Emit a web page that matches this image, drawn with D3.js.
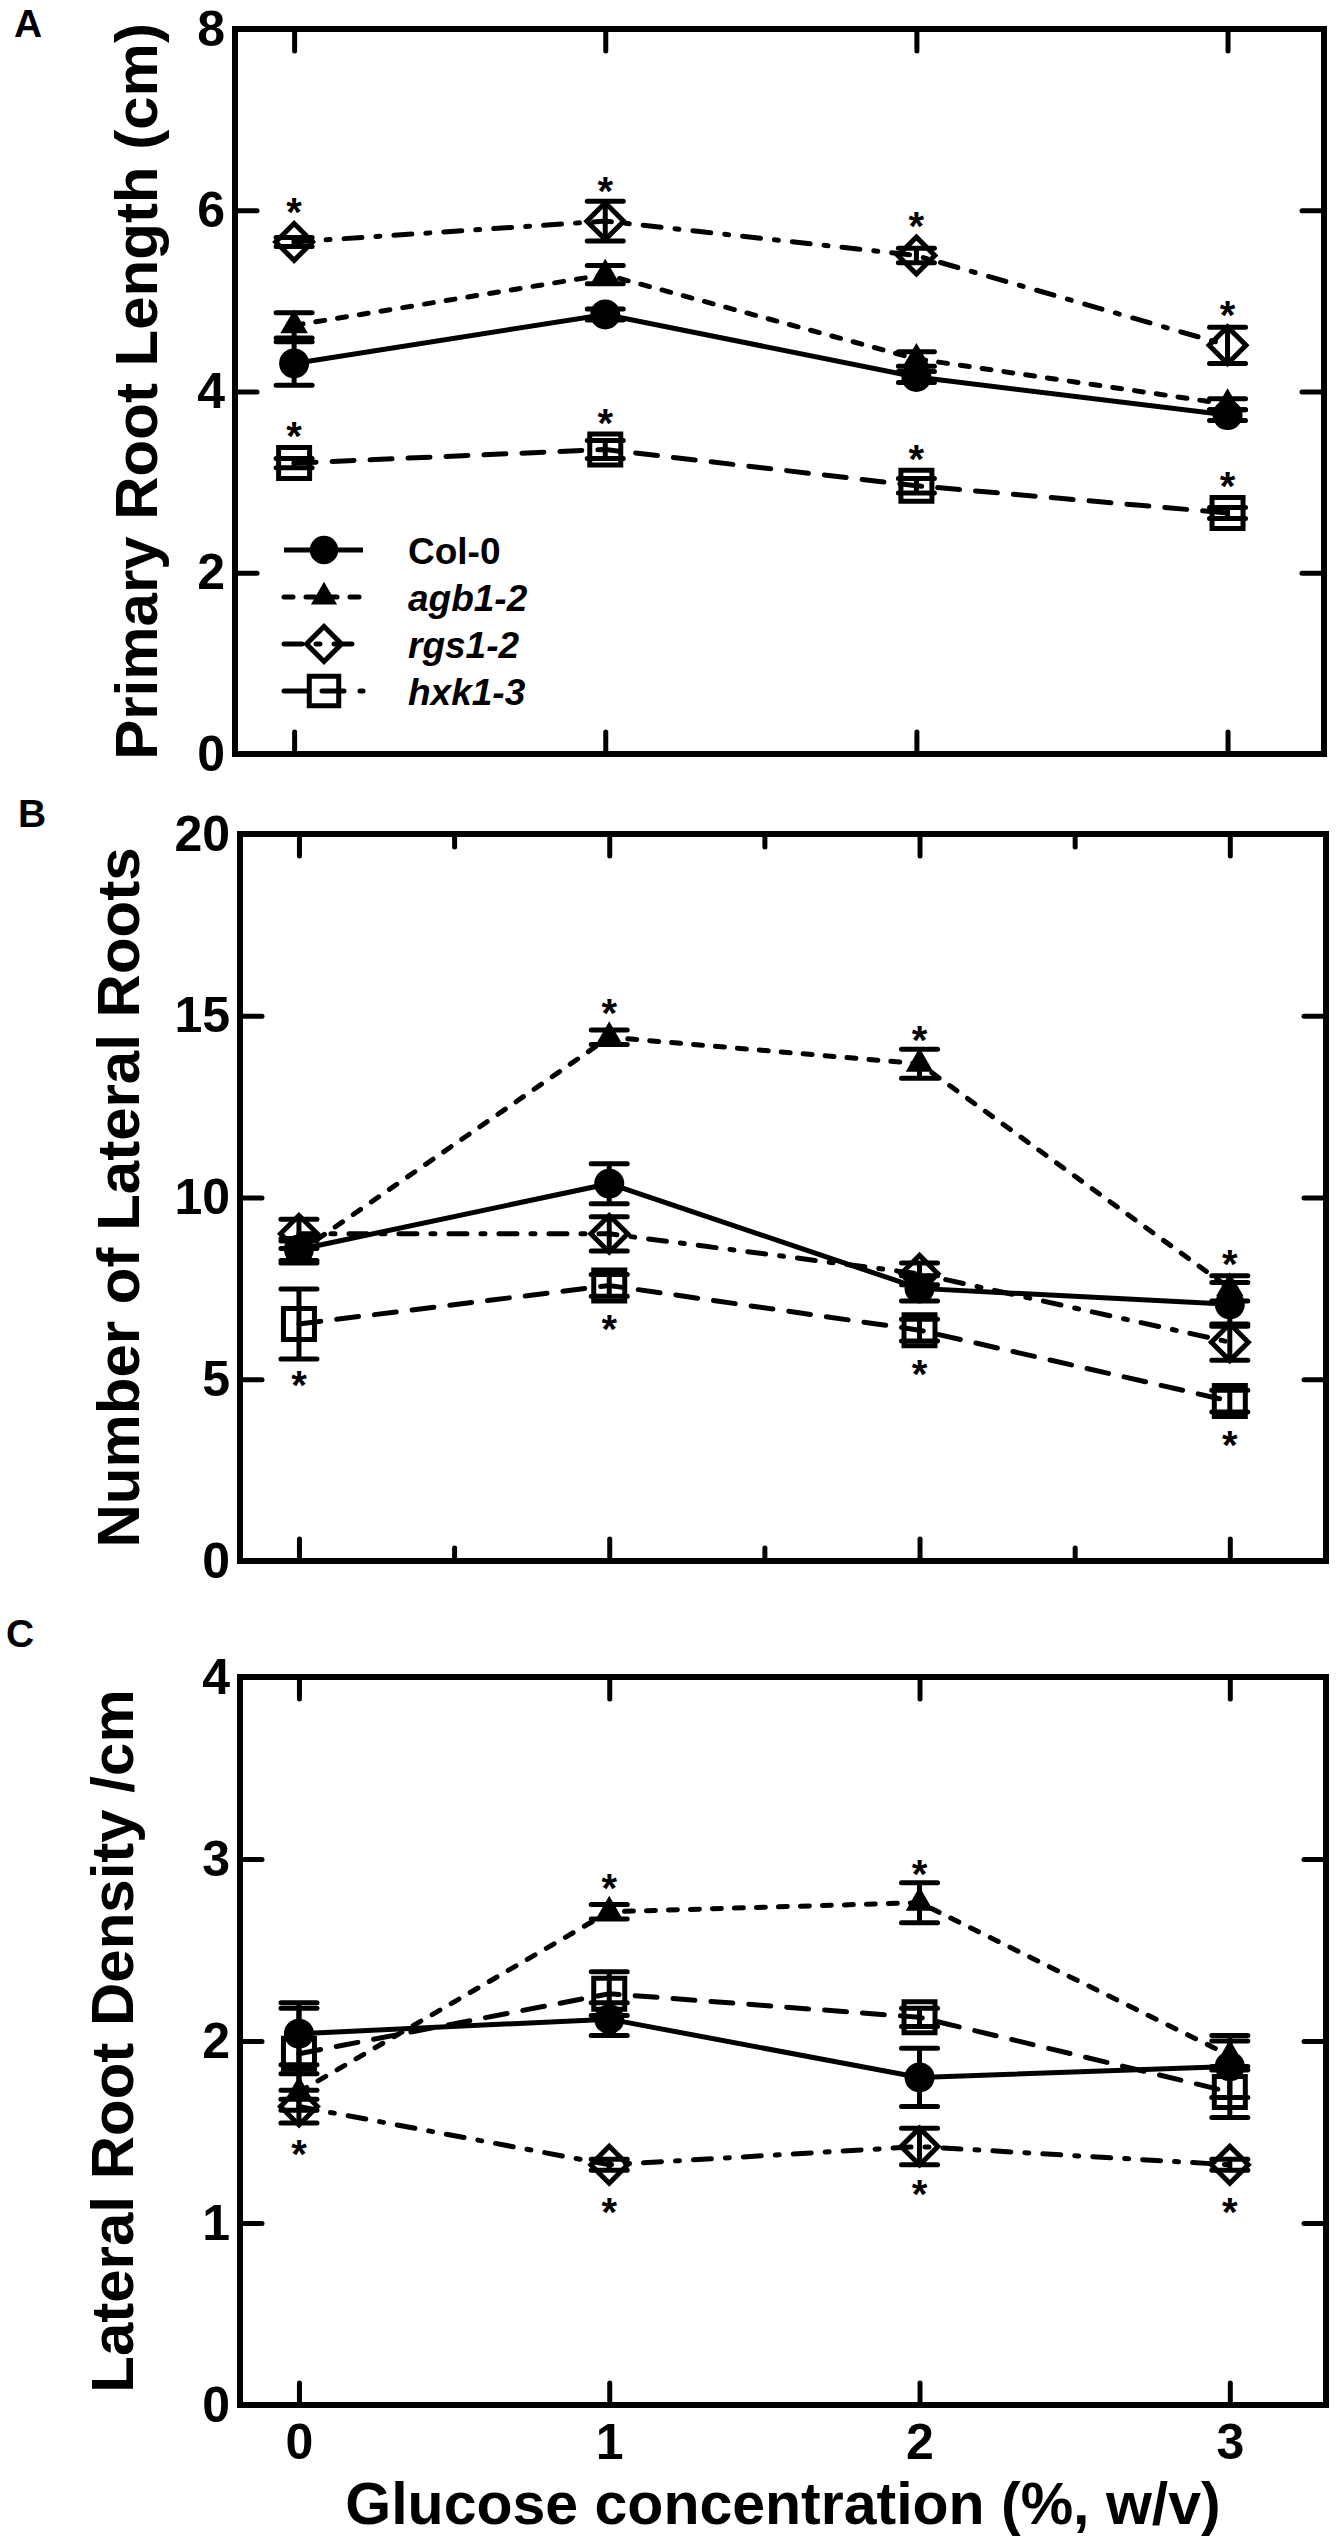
<!DOCTYPE html>
<html>
<head>
<meta charset="utf-8">
<script src="https://cdnjs.cloudflare.com/ajax/libs/d3/7.8.5/d3.min.js"></script>
<style>
  body { margin: 0; background: #fff; }
  text { font-family: "Liberation Sans", Arial, sans-serif; }
</style>
</head>
<body>
<script>
// glucose concentration (%, w/v)
var xVals = [0, 1, 2, 3];
var series = ["Col-0", "agb1-2", "rgs1-2", "hxk1-3"];

// A: primary root length (cm), rows follow series
var primaryMean = [[4.31, 4.85, 4.16, 3.74], [4.73, 5.29, 4.36, 3.86], [5.65, 5.88, 5.50, 4.51], [3.21, 3.36, 2.96, 2.66]];
var primaryErr = [[0.24, 0.06, 0.06, 0.06], [0.14, 0.10, 0.08, 0.06], [0.05, 0.22, 0.08, 0.20], [0.05, 0.10, 0.08, 0.06]];
var primaryStars = [[2, 0, "up"], [2, 1, "up"], [2, 2, "up"], [2, 3, "up"], [3, 0, "up"], [3, 1, "up"], [3, 2, "up"], [3, 3, "up"]];

// B: number of lateral roots
var lateralMean = [[8.57, 10.38, 7.50, 7.06], [8.50, 14.41, 13.68, 7.50], [9.00, 9.00, 7.90, 6.02], [6.52, 7.58, 6.35, 4.40]];
var lateralErr = [[0.30, 0.55, 0.35, 0.60], [0.30, 0.20, 0.40, 0.35], [0.40, 0.47, 0.30, 0.50], [0.96, 0.30, 0.30, 0.30]];
var lateralStars = [[1, 1, "up"], [1, 2, "up"], [1, 3, "up"], [3, 0, "down"], [3, 1, "down"], [3, 2, "down"], [3, 3, "down"]];

// C: lateral root density /cm
var densityMean = [[2.04, 2.12, 1.80, 1.86], [1.72, 2.71, 2.76, 1.92], [1.64, 1.32, 1.42, 1.32], [1.93, 2.26, 2.13, 1.72]];
var densityErr = [[0.17, 0.09, 0.16, 0.17], [0.10, 0.04, 0.11, 0.08], [0.09, 0.03, 0.10, 0.03], [0.25, 0.12, 0.05, 0.14]];
var densityStars = [[1, 1, "up"], [1, 2, "up"], [2, 0, "down"], [2, 1, "down"], [2, 2, "down"], [2, 3, "down"]];

var yTicksA = [0, 2, 4, 6, 8];
var yTicksB = [0, 5, 10, 15, 20];
var yTicksC = [0, 1, 2, 3, 4];
var minorX = [0.5, 1.5, 2.5];

var screen = {width: 1340, height: 2545};

var panels = [
  {letter: "A", top: 29, bottom: 754, left: 235, right: 1324, yMax: 8, ticks: yTicksA, title: "Primary Root Length (cm)", titleX: 157,
   letterX: 14, letterY: 37, mean: primaryMean, err: primaryErr, stars: primaryStars, minor: false, legend: true, xLabels: false},
  {letter: "B", top: 834, bottom: 1561, left: 240, right: 1326, yMax: 20, ticks: yTicksB, title: "Number of Lateral Roots", titleX: 139,
   letterX: 18, letterY: 827, mean: lateralMean, err: lateralErr, stars: lateralStars, minor: true, legend: false, xLabels: false},
  {letter: "C", top: 1677, bottom: 2405, left: 240, right: 1326, yMax: 4, ticks: yTicksC, title: "Lateral Root Density /cm", titleX: 133,
   letterX: 6, letterY: 1647, mean: densityMean, err: densityErr, stars: densityStars, minor: false, legend: false, xLabels: true}
];

// line style per series
var dashes = [null, "9,13", "18,14,4,14", "22,16"];
var shapes = [d3.symbolCircle, d3.symbolTriangle, d3.symbolSquare, d3.symbolSquare];
var sizes = [707, 330, 680, 961];
var rotate = [0, 0, 45, 0];
var fills = ["black", "black", "none", "none"];
var halfH = [15, 15, 21, 18];

var svg = d3.select("body").append("svg")
  .attr("width", screen.width)
  .attr("height", screen.height);

function styleAxis(g) {
  g.select(".domain").remove();
  g.selectAll(".tick line").attr("stroke", "black").attr("stroke-width", 5).attr("stroke-linecap", "round");
  g.selectAll(".tick text").filter(function() { return this.textContent == ""; }).remove();
  g.selectAll(".tick text").attr("fill", "black").style("font-size", "50px").style("font-weight", "bold")
    .style("font-family", "'Liberation Sans', Arial, sans-serif");
}

function drawMarker(g, s, cx, cy, scaleF) {
  var k = scaleF || 1;
  g.append("path")
    .attr("d", d3.symbol().type(shapes[s]).size(sizes[s] * k * k)())
    .attr("transform", "translate(" + cx + "," + cy + ") rotate(" + rotate[s] + ")")
    .attr("fill", fills[s])
    .attr("stroke", "black")
    .attr("stroke-width", s < 2 ? 0 : 5);
}

panels.forEach(function(p) {
  var x = d3.scaleLinear().domain([-0.19, 3.31]).range([p.left, p.right]);
  var y = d3.scaleLinear().domain([0, p.yMax]).range([p.bottom, p.top]);
  var g = svg.append("g");

  // frame
  g.append("rect")
    .attr("x", p.left).attr("y", p.top)
    .attr("width", p.right - p.left).attr("height", p.bottom - p.top)
    .attr("fill", "none").attr("stroke", "black").attr("stroke-width", 6);

  var inner = p.ticks.filter(function(t) { return t != 0 && t != p.yMax; });
  g.append("g").attr("transform", "translate(" + p.left + ",0)")
    .call(d3.axisLeft(y).tickValues(p.ticks).tickSize(0).tickPadding(10).tickFormat(d3.format("d")))
    .call(styleAxis);
  g.append("g").attr("transform", "translate(" + p.left + ",0)")
    .call(d3.axisLeft(y).tickValues(inner).tickSize(-22).tickFormat(""))
    .call(styleAxis);
  g.append("g").attr("transform", "translate(" + p.right + ",0)")
    .call(d3.axisRight(y).tickValues(inner).tickSize(-22).tickFormat(""))
    .call(styleAxis);
  g.append("g").attr("transform", "translate(0," + p.top + ")")
    .call(d3.axisTop(x).tickValues(xVals).tickSize(-22).tickFormat(""))
    .call(styleAxis);
  g.append("g").attr("transform", "translate(0," + p.bottom + ")")
    .call(d3.axisBottom(x).tickValues(xVals).tickSize(-22).tickFormat(""))
    .call(styleAxis);
  if (p.minor) {
    g.append("g").attr("transform", "translate(0," + p.top + ")")
      .call(d3.axisTop(x).tickValues(minorX).tickSize(-13).tickFormat(""))
      .call(styleAxis);
    g.append("g").attr("transform", "translate(0," + p.bottom + ")")
      .call(d3.axisBottom(x).tickValues(minorX).tickSize(-13).tickFormat(""))
      .call(styleAxis);
  }
  if (p.xLabels) {
    g.append("g").attr("transform", "translate(0," + p.bottom + ")")
      .call(d3.axisBottom(x).tickValues(xVals).tickSize(0).tickPadding(18).tickFormat(d3.format("d")))
      .call(styleAxis);
    g.append("text")
      .attr("x", (p.left + p.right) / 2).attr("y", 2524)
      .attr("text-anchor", "middle")
      .style("font-size", "59px").style("font-weight", "bold")
      .text("Glucose concentration (%, w/v)");
  }

  // y title
  g.append("text")
    .attr("transform", "translate(" + p.titleX + "," + ((p.top + p.bottom) / 2) + ") rotate(-90)")
    .attr("text-anchor", "middle")
    .style("font-size", "60px").style("font-weight", "bold")
    .text(p.title);

  // panel letter
  g.append("text")
    .attr("x", p.letterX).attr("y", p.letterY)
    .style("font-size", "39px").style("font-weight", "bold")
    .text(p.letter);

  // series
  var line = d3.line()
    .x(function(d, i) { return x(xVals[i]); })
    .y(function(d) { return y(d); });

  p.mean.forEach(function(vals, s) {
    var sg = g.append("g");
    sg.append("path")
      .attr("d", line(vals))
      .attr("fill", "none")
      .attr("stroke", "black")
      .attr("stroke-width", 5)
      .attr("stroke-linecap", dashes[s] ? "round" : "butt")
      .attr("stroke-dasharray", dashes[s]);
    vals.forEach(function(v, i) {
      var e = p.err[s][i];
      var cx = x(xVals[i]);
      sg.append("line")
        .attr("x1", cx).attr("x2", cx).attr("y1", y(v - e)).attr("y2", y(v + e))
        .attr("stroke", "black").attr("stroke-width", 5);
      [v - e, v + e].forEach(function(c) {
        sg.append("line")
          .attr("x1", cx - 18).attr("x2", cx + 18).attr("y1", y(c)).attr("y2", y(c))
          .attr("stroke", "black").attr("stroke-width", 5).attr("stroke-linecap", "round");
      });
    });
    vals.forEach(function(v, i) {
      drawMarker(sg, s, x(xVals[i]), y(v));
    });
  });

  // significance stars
  p.stars.forEach(function(st) {
    var s = st[0], i = st[1];
    var v = p.mean[s][i], e = p.err[s][i];
    var cy;
    if (st[2] == "up") {
      cy = Math.min(y(v + e), y(v) - halfH[s]) - 18;
    } else {
      cy = Math.max(y(v - e), y(v) + halfH[s]) + 17;
    }
    g.append("text")
      .attr("x", x(xVals[i])).attr("y", cy + 23)
      .attr("text-anchor", "middle")
      .style("font-size", "40px").style("font-weight", "bold")
      .text("*");
  });

  // legend
  if (p.legend) {
    var ly = d3.scalePoint().domain(series).range([550, 691]);
    series.forEach(function(name, s) {
      var yy = ly(name);
      g.append("line")
        .attr("x1", 284).attr("x2", 363).attr("y1", yy).attr("y2", yy)
        .attr("stroke", "black").attr("stroke-width", 5)
        .attr("stroke-linecap", dashes[s] ? "round" : "butt")
        .attr("stroke-dasharray", dashes[s]);
      drawMarker(g, s, 324, yy, 0.95);
      g.append("text")
        .attr("x", 408).attr("y", yy + 14)
        .style("font-size", "37px").style("font-weight", "bold")
        .style("font-style", s == 0 ? "normal" : "italic")
        .text(name);
    });
  }
});
</script>
</body>
</html>
